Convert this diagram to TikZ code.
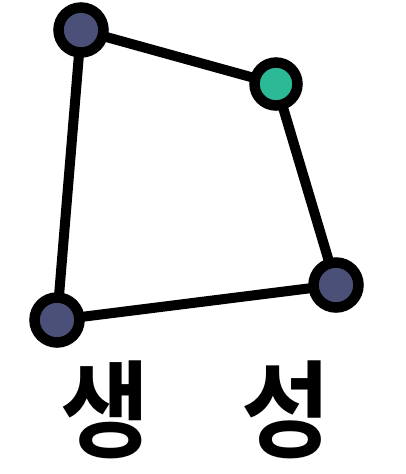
\documentclass[tikz,border=0pt]{standalone}
\usepackage{fontspec}
\usetikzlibrary{backgrounds}
\newfontfamily\kofont{Noto Sans CJK KR Bold}
\definecolor{slateblue}{HTML}{4B5078}
\definecolor{teal}{HTML}{2CB996}
\begin{document}
\begin{tikzpicture}[x=1pt,y=-1pt,
        vertex/.style={circle,draw=black,line width=10.5pt,minimum size=45pt,inner sep=0pt,fill=slateblue},
        greenvertex/.style={vertex,fill=teal,minimum size=43pt},
        edge/.style={line width=10pt},
        label/.style={font=\kofont\fontsize{106}{106}\selectfont,inner sep=0pt}]
    \useasboundingbox (0,0) rectangle (405,474);
    \node[vertex] (a) at (81,30) {};
    \node[greenvertex] (b) at (276,84) {};
    \node[vertex] (c) at (336,285) {};
    \node[vertex] (d) at (57,320) {};
    % polygon edges behind the vertices
    \begin{pgfonlayer}{background}
    \draw[edge] (a.center) -- (b.center) -- (c.center) -- (d.center) -- (a.center);
    \end{pgfonlayer}
    \node[label,xscale=0.92] (t) at (196,410) {생\hspace{100pt}성};
\end{tikzpicture}
\end{document}
